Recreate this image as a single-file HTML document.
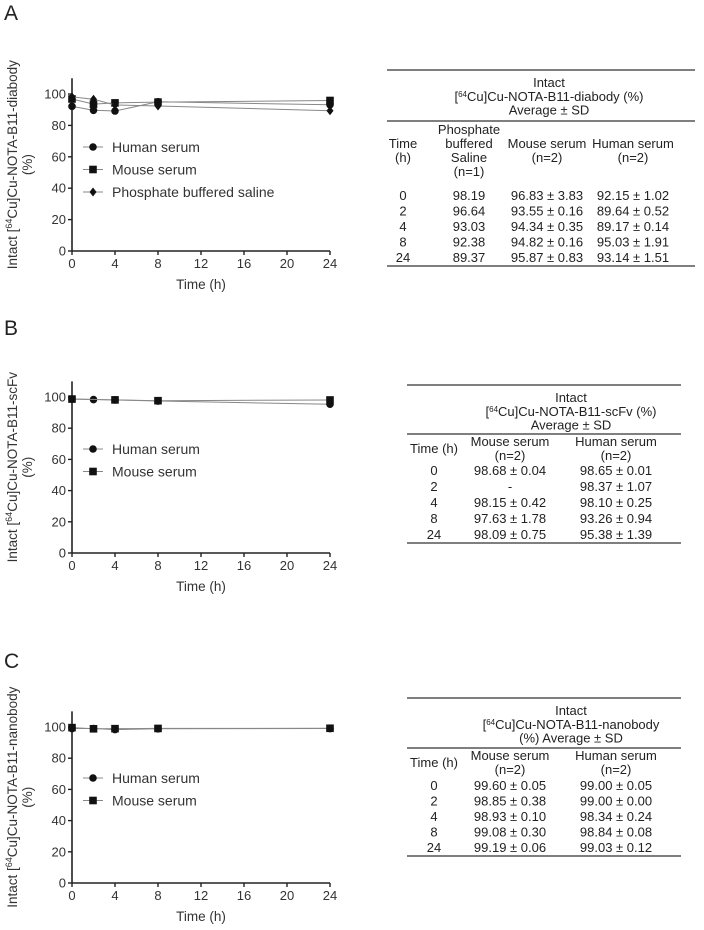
<!DOCTYPE html>
<html><head><meta charset="utf-8"><style>
body{margin:0;background:#fff;}
svg{display:block;font-family:"Liberation Sans",Arial,sans-serif;}
</style></head><body>
<svg id="s" width="704" height="930" viewBox="0 0 704 930"></svg>
<script>
const timesH=[0,2,4,8,24];
const xTicks=[0,4,8,12,16,20,24];
const yTicks=[0,20,40,60,80,100];
const aHuman=[92.15,89.64,89.17,95.03,93.14];
const aMouse=[96.83,93.55,94.34,94.82,95.87];
const aPBS=[98.19,96.64,93.03,92.38,89.37];
const bHuman=[98.65,98.37,98.10,97.4,95.38];
const bMouse=[98.68,null,98.15,97.63,98.09];
const cHuman=[99.00,99.00,98.34,98.84,99.03];
const cMouse=[99.60,98.85,98.93,99.08,99.19];

const NS='http://www.w3.org/2000/svg';
const svg=document.getElementById('s');
function mk(tag,attrs,parent,text){const e=document.createElementNS(NS,tag);for(const k in attrs)e.setAttribute(k,attrs[k]);if(text!==undefined)e.textContent=text;(parent||svg).appendChild(e);return e;}

function marker(g,shape,x,y){
  let e;
  if(shape==='circle'){e=mk('circle',{cx:x,cy:y,r:3.8,fill:'#111'},g);}
  else if(shape==='square'){e=mk('rect',{x:x-3.8,y:y-3.8,width:7.6,height:7.6,fill:'#111'},g);}
  else{e=mk('polygon',{points:`${x},${y-4.5} ${x+3.5},${y} ${x},${y+4.5} ${x-3.5},${y}`,fill:'#111'},g);}
  return e;
}

function panel(cfg){
  const x0=72,x1=330,yb=cfg.y0,yt=cfg.y100;
  const sx=v=>x0+(x1-x0)*v/24;
  const sy=v=>yb-(yb-yt)*v/100;
  const g=mk('g',{});
  
  
  const lt=mk('text',{x:4,y:cfg.letterY,'font-size':21,fill:'#222'},svg,cfg.letter);
  
  
  const ax=mk('g',{},g);
  
  
  mk('line',{x1:x0,y1:sy(110),x2:x0,y2:yb,stroke:'#222','stroke-width':1.6},ax);
  mk('line',{x1:x0,y1:yb,x2:x1,y2:yb,stroke:'#222','stroke-width':1.6},ax);
  yTicks.forEach(v=>{mk('line',{x1:x0-4,y1:sy(v),x2:x0,y2:sy(v),stroke:'#222','stroke-width':1.4},ax);
    const t=mk('text',{x:x0-6,y:sy(v)+4.5,'font-size':13,'text-anchor':'end',fill:'#333'},ax,String(v));
    });
  xTicks.forEach(v=>{mk('line',{x1:sx(v),y1:yb,x2:sx(v),y2:yb+4,stroke:'#222','stroke-width':1.4},ax);
    const t=mk('text',{x:sx(v),y:yb+17,'font-size':13,'text-anchor':'middle',fill:'#333'},ax,String(v));
    });
  const xt=mk('text',{x:(x0+x1)/2,y:yb+38,'font-size':13.5,'text-anchor':'middle',fill:'#333'},ax,'Time (h)');
  
  const cy=(yb+sy(110))/2;
  const yt1=mk('text',{x:0,y:0,'font-size':13.5,'text-anchor':'middle',fill:'#333',transform:`translate(17,${cy}) rotate(-90)`},ax);
  
  mk('tspan',{},yt1,'Intact [');
  mk('tspan',{'font-size':9,dy:-5},yt1,'64');
  mk('tspan',{dy:5},yt1,'Cu]Cu-NOTA-B11-'+cfg.agent);
  mk('text',{x:0,y:0,'font-size':13.5,'text-anchor':'middle',fill:'#333',transform:`translate(32,${cy}) rotate(-90)`},ax,'(%)');
  cfg.series.forEach((s,si)=>{
    const sg=mk('g',{},g);
    
    
    const pts=[];
    s.vals.forEach((v,i)=>{if(v!==null)pts.push([sx(timesH[i]),sy(v)]);});
    mk('polyline',{points:pts.map(p=>p.join(',')).join(' '),fill:'none',stroke:'#888','stroke-width':1},sg);
    pts.forEach(p=>{const m=marker(sg,s.shape,p[0],p[1]);});
    const ly=cfg.legY+si*22.5;
    const lg=mk('g',{},g);
    
    
    mk('line',{x1:83,y1:ly,x2:103,y2:ly,stroke:'#888','stroke-width':1},lg);
    marker(lg,s.shape,93,ly);
    mk('text',{x:112,y:ly+5,'font-size':14,fill:'#333'},lg,s.label);
  });
}
panel({name:'diabody',letter:'A',letterY:20,agent:'diabody',y0:251,y100:94,legY:147,series:[
  {key:'human',label:'Human serum',shape:'circle',vals:aHuman},
  {key:'mouse',label:'Mouse serum',shape:'square',vals:aMouse},
  {key:'pbs',label:'Phosphate buffered saline',shape:'diamond',vals:aPBS}]});
panel({name:'scfv',letter:'B',letterY:335,agent:'scFv',y0:553,y100:397,legY:449,series:[
  {key:'human',label:'Human serum',shape:'circle',vals:bHuman},
  {key:'mouse',label:'Mouse serum',shape:'square',vals:bMouse}]});
panel({name:'nanobody',letter:'C',letterY:668,agent:'nanobody',y0:883,y100:727,legY:778,series:[
  {key:'human',label:'Human serum',shape:'circle',vals:cHuman},
  {key:'mouse',label:'Mouse serum',shape:'square',vals:cMouse}]});

function table(cfg){
  const g=mk('g',{'font-size':13,fill:'#222','text-anchor':'middle'});
  
  
  mk('line',{x1:cfg.xl,y1:cfg.top,x2:cfg.xr,y2:cfg.top,stroke:'#333','stroke-width':1.2},g);
  mk('line',{x1:cfg.xl,y1:cfg.mid,x2:cfg.xr,y2:cfg.mid,stroke:'#333','stroke-width':1.2},g);
  mk('line',{x1:cfg.xl,y1:cfg.bot,x2:cfg.xr,y2:cfg.bot,stroke:'#333','stroke-width':1.2},g);
  cfg.title.forEach((ln,i)=>{
    const t=mk('text',{x:cfg.titleX,y:cfg.top+17+i*13.8},g);
    if(ln.indexOf('[64')===0){mk('tspan',{},t,'[');mk('tspan',{'font-size':8,dy:-4},t,'64');mk('tspan',{dy:4},t,ln.slice(3));}
    else t.textContent=ln;
  });
  cfg.heads.forEach((h,c)=>{const n=h.length;h.forEach((ln,i)=>mk('text',{x:cfg.cols[c],y:cfg.headY-(n-1)*7+i*14},g,ln));});
  cfg.rows.forEach((r,ri)=>r.forEach((v,c)=>mk('text',{x:cfg.cols[c],y:cfg.row0+ri*cfg.rowH},g,v)));
}
table({name:'diabody',xl:387,xr:695,top:70,mid:121,bot:266,titleX:549,
  title:['Intact','[64Cu]Cu-NOTA-B11-diabody  (%)','Average ± SD'],
  cols:[403,469,547,633],headY:155,
  heads:[['Time','(h)'],['Phosphate','buffered','Saline','(n=1)'],['Mouse serum','(n=2)'],['Human serum','(n=2)']],
  row0:200,rowH:15.5,
  rows:[['0','98.19','96.83 ± 3.83','92.15 ± 1.02'],['2','96.64','93.55 ± 0.16','89.64 ± 0.52'],['4','93.03','94.34 ± 0.35','89.17 ± 0.14'],['8','92.38','94.82 ± 0.16','95.03 ± 1.91'],['24','89.37','95.87 ± 0.83','93.14 ± 1.51']]});
table({name:'scfv',xl:407,xr:681,top:385,mid:434,bot:543,titleX:571,
  title:['Intact','[64Cu]Cu-NOTA-B11-scFv (%)','Average ± SD'],
  cols:[434,510,616],headY:453,
  heads:[['Time (h)'],['Mouse serum','(n=2)'],['Human serum','(n=2)']],
  row0:475,rowH:16,
  rows:[['0','98.68 ± 0.04','98.65 ± 0.01'],['2','-','98.37 ± 1.07'],['4','98.15 ± 0.42','98.10 ± 0.25'],['8','97.63 ± 1.78','93.26 ± 0.94'],['24','98.09 ± 0.75','95.38 ± 1.39']]});
table({name:'nanobody',xl:407,xr:681,top:698,mid:748,bot:856,titleX:571,
  title:['Intact','[64Cu]Cu-NOTA-B11-nanobody','(%) Average ± SD'],
  cols:[434,510,616],headY:767,
  heads:[['Time (h)'],['Mouse serum','(n=2)'],['Human serum','(n=2)']],
  row0:790,rowH:15.5,
  rows:[['0','99.60 ± 0.05','99.00 ± 0.05'],['2','98.85 ± 0.38','99.00 ± 0.00'],['4','98.93 ± 0.10','98.34 ± 0.24'],['8','99.08 ± 0.30','98.84 ± 0.08'],['24','99.19 ± 0.06','99.03 ± 0.12']]});
</script>
</body></html>
